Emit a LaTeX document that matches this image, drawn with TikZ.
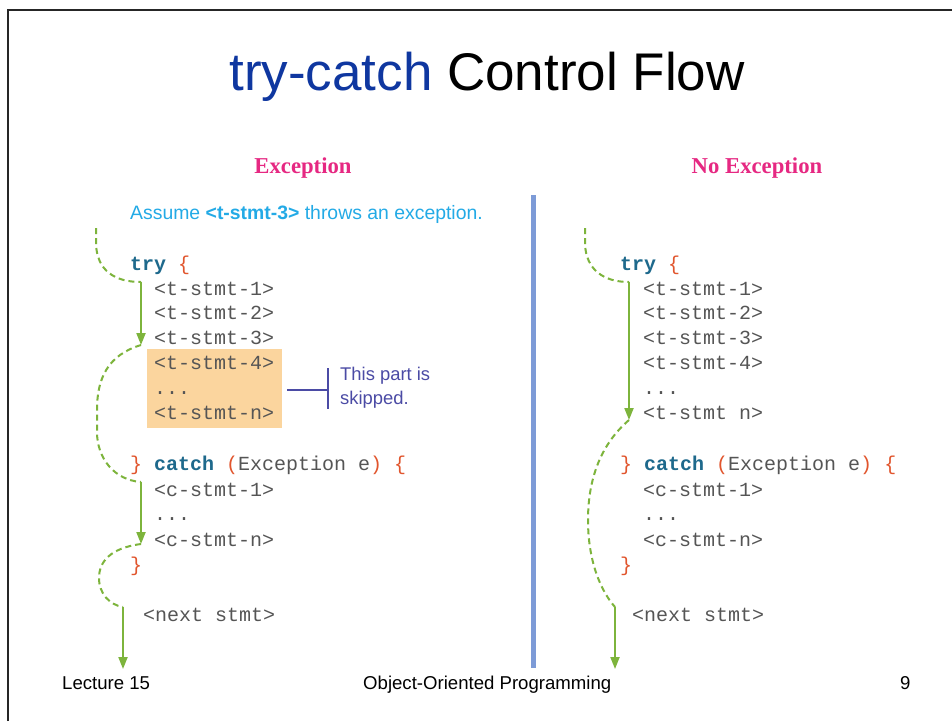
\documentclass[tikz,border=0pt]{standalone}
\usepackage{fontspec}
\setmainfont{Liberation Sans}
\newfontfamily\codefont{Liberation Mono}
\newfontfamily\headfont{Liberation Serif}
\usetikzlibrary{arrows.meta}

\definecolor{titleblue}{RGB}{15,55,160}
\definecolor{hdrpink}{RGB}{230,40,130}
\definecolor{notecyan}{RGB}{35,170,230}
\definecolor{codegray}{RGB}{85,85,85}
\definecolor{kwteal}{RGB}{30,105,140}
\definecolor{bracered}{RGB}{225,85,45}
\definecolor{skipfill}{RGB}{251,213,158}
\definecolor{skipblue}{RGB}{75,75,165}
\definecolor{flowgreen}{RGB}{125,180,60}
\definecolor{dividerblue}{RGB}{125,155,215}

\newcommand{\kw}[1]{\textcolor{kwteal}{\bfseries #1}}
\newcommand{\br}[1]{\textcolor{bracered}{#1}}

\tikzset{
  codeline/.style={anchor=base west, inner sep=0pt, text=codegray,
    font=\codefont\fontsize{20}{20}\selectfont},
  header/.style={anchor=base, inner sep=0pt, text=hdrpink,
    font=\headfont\bfseries\fontsize{22.7}{22.7}\selectfont},
  footer/.style={anchor=base west, inner sep=0pt,
    font=\fontsize{18.6}{18.6}\selectfont},
  flowsolid/.style={draw=flowgreen, line width=2pt,
    -{Triangle[width=9pt,length=12pt]}},
  flowdash/.style={draw=flowgreen, line width=2pt, dash pattern=on 6pt off 4pt},
}

\begin{document}
\begin{tikzpicture}[x=1pt,y=-1pt]
\useasboundingbox (0,0) rectangle (952,721);
\fill[white] (0,0) rectangle (952,721);

% slide frame
\draw[line width=2.5pt, black!85] (8,721) -- (8,10) -- (952,10);

% title
\node (title) [anchor=base, inner sep=0pt,
  font=\fontsize{53}{53}\selectfont] at (487,90)
  {\textcolor{titleblue}{try-catch} Control Flow};

% column headers
\node (hexc) [header] at (303,173) {Exception};
\node (hnoexc) [header] at (757,173) {No Exception};

% divider between the two cases
\draw[dividerblue, line width=5pt] (533,195) -- (533,668);

% note above the left listing
\node (note) [anchor=base west, inner sep=0pt, text=notecyan,
  font=\fontsize{19.4}{19.4}\selectfont] at (130,219)
  {Assume \textbf{<t-stmt-3>} throws an exception.};

% ---------- left listing: exception thrown ----------
\fill[skipfill] (147,349) rectangle (282,428);

\node (ltry)  [codeline] at (130,270) {\kw{try} \br{\{}};
\node (lt1)   [codeline] at (154,295) {<t-stmt-1>};
\node (lt2)   [codeline] at (154,319) {<t-stmt-2>};
\node (lt3)   [codeline] at (154,344) {<t-stmt-3>};
\node (lt4)   [codeline] at (154,369) {<t-stmt-4>};
\node (ltd)   [codeline] at (154,394) {...};
\node (ltn)   [codeline] at (154,419) {<t-stmt-n>};
\node (lcat)  [codeline] at (130,470) {\br{\}} \kw{catch} \br{(}Exception e\br{)} \br{\{}};
\node (lc1)   [codeline] at (154,496) {<c-stmt-1>};
\node (lcd)   [codeline] at (154,520) {...};
\node (lcn)   [codeline] at (154,546) {<c-stmt-n>};
\node (lend)  [codeline] at (130,571) {\br{\}}};
\node (lnext) [codeline] at (143,621) {<next stmt>};

% bracket marking the skipped statements
\coordinate (skipL) at (287,390);
\coordinate (skipM) at (328,390);
\coordinate (skipT) at (328,368);
\coordinate (skipB) at (328,409);
\draw[skipblue, line width=1.6pt] (skipL) -- (skipM);
\draw[skipblue, line width=1.6pt] (skipT) -- (skipB);
\node (skipnote) [anchor=north west, inner sep=0pt, align=left, text=skipblue,
  font=\fontsize{18.4}{24}\selectfont] at (340,367) {This part is\\skipped.};

% flow of control, left
\coordinate (la0) at (96,228);
\coordinate (la1) at (141,282);
\coordinate (la2) at (141,345);
\coordinate (la3) at (141,482);
\coordinate (la4) at (141,544);
\coordinate (la5) at (123,607);
\coordinate (la6) at (123,669);
\draw[flowdash] (la0) -- ++(0,16) .. controls (97,270) and (114,282) .. (la1);
\draw[flowsolid] (la1) -- (la2);
\draw[flowdash] (la2) .. controls (108,355) and (97,378) .. (97,410)
  -- (97,432) .. controls (97,458) and (114,480) .. (la3);
\draw[flowsolid] (la3) -- (la4);
\draw[flowdash] (la4) .. controls (110,548) and (99,562) .. (99,578)
  .. controls (99,594) and (110,605) .. (la5);
\draw[flowsolid] (la5) -- (la6);

% ---------- right listing: no exception ----------
\node (rtry)  [codeline] at (620,270) {\kw{try} \br{\{}};
\node (rt1)   [codeline] at (643,295) {<t-stmt-1>};
\node (rt2)   [codeline] at (643,319) {<t-stmt-2>};
\node (rt3)   [codeline] at (643,344) {<t-stmt-3>};
\node (rt4)   [codeline] at (643,369) {<t-stmt-4>};
\node (rtd)   [codeline] at (643,394) {...};
\node (rtn)   [codeline] at (643,419) {<t-stmt n>};
\node (rcat)  [codeline] at (620,470) {\br{\}} \kw{catch} \br{(}Exception e\br{)} \br{\{}};
\node (rc1)   [codeline] at (643,496) {<c-stmt-1>};
\node (rcd)   [codeline] at (643,520) {...};
\node (rcn)   [codeline] at (643,546) {<c-stmt-n>};
\node (rend)  [codeline] at (620,571) {\br{\}}};
\node (rnext) [codeline] at (632,621) {<next stmt>};

% flow of control, right
\coordinate (ra0) at (585,228);
\coordinate (ra1) at (629,282);
\coordinate (ra2) at (629,420);
\coordinate (ra3) at (615,607);
\coordinate (ra4) at (615,669);
\draw[flowdash] (ra0) -- ++(0,16) .. controls (586,270) and (604,282) .. (ra1);
\draw[flowsolid] (ra1) -- (ra2);
\draw[flowdash] (ra2) .. controls (600,445) and (588,480) .. (588,520)
  .. controls (588,560) and (600,590) .. (ra3);
\draw[flowsolid] (ra3) -- (ra4);

% footer
\node (flect) [footer] at (62,689) {Lecture 15};
\node (fcourse) [footer] at (363,689) {Object-Oriented Programming};
\node (fpage) [footer] at (900,689) {9};
\end{tikzpicture}
\end{document}
